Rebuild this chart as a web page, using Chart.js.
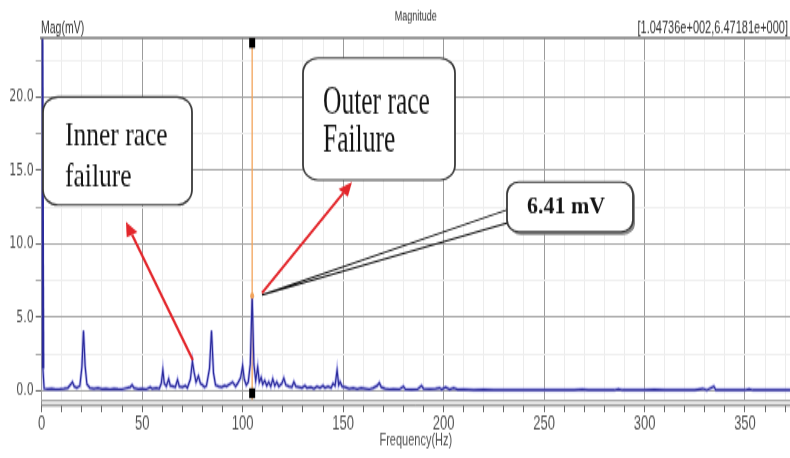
<!DOCTYPE html>
<html>
<head>
<meta charset="utf-8">
<title>Magnitude</title>
<script src="https://cdn.jsdelivr.net/npm/chart.js@4.4.1/dist/chart.umd.min.js"></script>
<style>
  body { margin: 0; background: #fff; }
</style>
</head>
<body>
<!-- the source picture is a screenshot stretched vertically, so the canvas is drawn at 290px and shown at 458px -->
<canvas id="spectrum" width="790" height="290" style="width:790px;height:458px"></canvas>
<script>
// spectrum (Hz / mV)
const freqHz = [
    0, 0.6, 1.2, 3, 5, 7, 9, 11, 13, 14.5,
    15.3, 16.2, 17.5, 19, 20, 20.8, 21.6, 22.5, 24, 26,
    28, 30, 32, 34, 36, 38, 40, 42, 44, 45,
    46, 48, 50, 52, 54, 55, 57, 58.5, 59.5, 60.3,
    61, 62, 63.2, 64, 65.5, 66.5, 67.6, 68.5, 70, 71.5,
    72.5, 74, 75, 75.8, 76.8, 78, 79, 80, 81, 82,
    83.5, 84.5, 85.5, 86.5, 88, 89.5, 91, 92, 93.5, 95,
    96.5, 97.5, 99, 100, 100.8, 101.8, 102.8, 103.8, 104.74, 105.6,
    106.5, 107.5, 108.3, 109.2, 110, 111, 112, 113, 114, 115,
    116, 117, 118, 119.5, 120.5, 121.5, 123, 124.5, 125.5, 126.5,
    128, 129.5, 131, 132, 134, 135.5, 137, 138.5, 140, 141,
    142.5, 144, 145, 146, 147, 147.8, 148.5, 149.5, 151, 153,
    155, 157, 159, 161, 163, 165, 167, 168, 169, 171,
    173, 175, 178, 180, 181, 184, 187, 189, 190, 193,
    196, 198, 199, 201, 203, 205, 207, 210, 215, 220,
    225, 230, 235, 240, 245, 250, 255, 260, 265, 269,
    272, 278, 285, 287, 289, 295, 300, 305, 310, 315,
    320, 325, 329, 331, 334.5, 335.5, 340, 345, 350, 352,
    354, 360, 365, 372.4
]
const magMv = [
    30, 1.5, 0.15, 0.12, 0.15, 0.1, 0.12, 0.15, 0.2, 0.45,
    0.6, 0.3, 0.2, 0.35, 1.6, 4.1, 1.7, 0.45, 0.2, 0.15,
    0.2, 0.12, 0.15, 0.1, 0.15, 0.12, 0.1, 0.18, 0.25, 0.4,
    0.2, 0.12, 0.15, 0.1, 0.25, 0.15, 0.2, 0.15, 0.5, 1.4,
    0.5, 0.3, 0.8, 0.35, 0.3, 0.25, 0.75, 0.3, 0.25, 0.35,
    0.2, 0.8, 2.0, 1.3, 0.6, 1.0, 0.5, 0.4, 0.25, 0.35,
    1.5, 4.1, 1.2, 0.4, 0.3, 0.25, 0.35, 0.3, 0.45, 0.6,
    0.3, 0.5, 0.9, 1.7, 0.8, 0.4, 0.6, 1.8, 6.47, 1.8,
    0.7, 1.6, 0.6, 0.9, 0.45, 0.7, 0.35, 0.6, 0.3, 0.8,
    0.35, 0.6, 0.3, 0.5, 0.85, 0.4, 0.3, 0.25, 0.6, 0.3,
    0.25, 0.2, 0.35, 0.2, 0.25, 0.15, 0.3, 0.2, 0.35, 0.2,
    0.3, 0.2, 0.5, 0.35, 1.4, 0.4, 0.6, 0.3, 0.25, 0.15,
    0.2, 0.12, 0.2, 0.15, 0.1, 0.2, 0.35, 0.55, 0.25, 0.15,
    0.1, 0.12, 0.1, 0.3, 0.1, 0.08, 0.1, 0.35, 0.15, 0.12,
    0.15, 0.2, 0.1, 0.25, 0.1, 0.2, 0.08, 0.1, 0.05, 0.08,
    0.05, 0.07, 0.05, 0.06, 0.05, 0.07, 0.05, 0.06, 0.05, 0.1,
    0.05, 0.06, 0.05, 0.12, 0.05, 0.06, 0.05, 0.08, 0.05, 0.06,
    0.05, 0.07, 0.15, 0.05, 0.3, 0.06, 0.05, 0.06, 0.05, 0.12,
    0.05, 0.06, 0.05, 0.06
]

// ticks: minor every 10 Hz / 2.5 mV, labels only on the majors
const xTickVals = [0, 10, 20, 30, 40, 50, 60, 70, 80, 90, 100, 110, 120, 130, 140, 150, 160, 170, 180, 190,
    200, 210, 220, 230, 240, 250, 260, 270, 280, 290, 300, 310, 320, 330, 340, 350, 360, 370]
const yTickVals = [0, 2.5, 5, 7.5, 10, 12.5, 15, 17.5, 20, 22.5]
const xMajor = 50
const yMajor = 5

// cursor read-out
const cursorFreq = 104.736
const cursorMag = 6.47181

const S = 458 / 290      // vertical stretch of the screenshot

const sci = v => {
    const [m, e] = v.toExponential(5).split('e')
    return m + 'e' + (e[0] === '-' ? '-' : '+') + String(Math.abs(+e)).padStart(3, '0')
}
const readout = '[' + sci(cursorFreq) + ',' + sci(cursorMag) + ']'

// callouts, in data units (Hz, mV)
const notes = {
    inner: { box: [0.65, 19.99, 74.8, 12.64], lines: [['Inner race', 11.6, 16.72], ['failure', 11.6, 13.88]], sy: 1.33 },
    outer: { box: [130.04, 22.64, 205.68, 14.34], lines: [['Outer race', 140, 18.88], ['Failure', 140, 16.27]], sy: 1.6 },
    value: { box: [231.56, 14.2, 294.26, 10.8], lines: [['6.41 mV', 241.5, 12.12]], sy: 1 },
    arrows: [[[75.2, 2.1], [41.95, 11.48]], [[109.63, 6.65], [154.43, 14.2]]],
    wedge: [[109.63, 6.52], [231.56, 12.3], [231.56, 11.41]]
}

const pt = (chart, f, m) => ({ x: chart.scales.x.getPixelForValue(f), y: chart.scales.y.getPixelForValue(m) * S })

const roundBox = (ctx, a, b, r, shadow) => {
    if (shadow) {
        ctx.fillStyle = '#8a8a8a'
        ctx.beginPath(); ctx.roundRect(a.x + 2, a.y + 3, b.x - a.x, b.y - a.y, r); ctx.fill()
    }
    ctx.fillStyle = '#fff'
    ctx.strokeStyle = '#3a3a3a'
    ctx.lineWidth = 1.8
    ctx.beginPath(); ctx.roundRect(a.x, a.y, b.x - a.x, b.y - a.y, r); ctx.fill(); ctx.stroke()
}

const stretchedText = (ctx, txt, p, font, sy) => {
    ctx.save()
    ctx.translate(p.x, p.y)
    ctx.scale(1, sy)
    ctx.font = font
    ctx.fillStyle = '#141414'
    ctx.textAlign = 'left'
    ctx.textBaseline = 'alphabetic'
    ctx.fillText(txt, 0, 0)
    ctx.restore()
}

const arrow = (ctx, a, b) => {
    const ang = Math.atan2(b.y - a.y, b.x - a.x)
    const len = 14, half = 6
    const bx = b.x - len * Math.cos(ang), by = b.y - len * Math.sin(ang)
    ctx.strokeStyle = ctx.fillStyle = '#e3262b'
    ctx.lineWidth = 2.4
    ctx.beginPath(); ctx.moveTo(a.x, a.y); ctx.lineTo(bx, by); ctx.stroke()
    ctx.beginPath()
    ctx.moveTo(b.x, b.y)
    ctx.lineTo(bx + half * Math.sin(ang), by - half * Math.cos(ang))
    ctx.lineTo(bx - half * Math.sin(ang), by + half * Math.cos(ang))
    ctx.closePath(); ctx.fill()
}

const drawNote = (ctx, chart, n, font, r, shadow) => {
    roundBox(ctx, pt(chart, n.box[0], n.box[1]), pt(chart, n.box[2], n.box[3]), r, shadow)
    n.lines.forEach(([txt, f, m]) => stretchedText(ctx, txt, pt(chart, f, m), font, n.sy))
}

const overlay = {
    id: 'overlay',
    beforeDatasetsDraw(chart) {
        const { ctx, chartArea } = chart
        const cx = chart.scales.x.getPixelForValue(cursorFreq)
        ctx.save()
        ctx.strokeStyle = '#f2a35a'
        ctx.lineWidth = 1.3
        ctx.beginPath(); ctx.moveTo(cx, chartArea.top); ctx.lineTo(cx, chartArea.bottom); ctx.stroke()
        ctx.restore()
    },
    afterDatasetsDraw(chart) {
        const { ctx, chartArea } = chart
        const cx = chart.scales.x.getPixelForValue(cursorFreq)
        ctx.save()
        // frame bits of the analyser window
        ctx.strokeStyle = '#7a7a7a'
        ctx.lineWidth = 1.6
        ctx.beginPath(); ctx.moveTo(40, chartArea.top); ctx.lineTo(chart.width, chartArea.top); ctx.stroke()
        ctx.fillStyle = '#e4e4e4'
        ctx.fillRect(chartArea.left, chartArea.bottom + 0.5, chartArea.right - chartArea.left, 3)
        ctx.strokeStyle = '#777'
        ctx.lineWidth = 1
        ctx.beginPath(); ctx.moveTo(chartArea.left, chartArea.bottom + 3.5); ctx.lineTo(chartArea.right, chartArea.bottom + 3.5); ctx.stroke()

        // cursor markers
        ctx.fillStyle = '#000'
        ctx.fillRect(cx - 3, chartArea.top, 6, 6.3)
        ctx.fillRect(cx - 3, chartArea.bottom - 7.5, 6, 6.3)
        ctx.fillStyle = '#f2a35a'
        ctx.beginPath(); ctx.arc(cx, chart.scales.y.getPixelForValue(cursorMag), 2, 0, Math.PI * 2); ctx.fill()

        // header texts
        ctx.fillStyle = '#333'
        ctx.textBaseline = 'middle'
        ctx.font = '9px "Liberation Sans"'
        ctx.textAlign = 'center'
        ctx.fillText('Magnitude', (chartArea.left + chartArea.right) / 2, 10.8)
        ctx.font = '10.5px "Liberation Sans"'
        ctx.textAlign = 'left'
        ctx.fillText('Mag(mV)', 41, 18.4)
        ctx.font = '11px "Liberation Sans"'
        ctx.textAlign = 'right'
        ctx.fillText(readout, 788, 18.4)
        ctx.restore()
    },
    afterDraw(chart) {
        const ctx = chart.ctx
        ctx.save()
        ctx.scale(1, 1 / S)     // callouts were pasted on the stretched picture

        const [apex, w1, w2] = notes.wedge.map(p => pt(chart, p[0], p[1]))
        ctx.strokeStyle = '#111'
        ctx.lineWidth = 1.3
        ctx.beginPath(); ctx.moveTo(w1.x, w1.y); ctx.lineTo(apex.x, apex.y); ctx.lineTo(w2.x, w2.y); ctx.stroke()

        const serif = '25.5px "Liberation Serif"'
        drawNote(ctx, chart, notes.inner, serif, 15, false)
        drawNote(ctx, chart, notes.outer, serif, 15, false)
        drawNote(ctx, chart, notes.value, 'bold 22px "Liberation Serif"', 12, true)

        notes.arrows.forEach(([a, b]) => arrow(ctx, pt(chart, a[0], a[1]), pt(chart, b[0], b[1])))
        ctx.restore()
    }
}

const points = freqHz.map((f, i) => ({ x: f, y: magMv[i] }))

new Chart('spectrum', {
    type: 'line',
    data: {
        datasets: [{
            label: 'Magnitude',
            data: points,
            borderColor: '#2b2b9c',
            borderWidth: 1.2,
            // the DC bin shows as a thick bar on the left edge
            segment: { borderWidth: c => c.p0DataIndex === 0 ? 3 : undefined },
            pointRadius: 0,
            tension: 0
        }, {
            label: 'halo',
            data: points,
            borderColor: 'rgba(130, 130, 225, 0.55)',
            borderWidth: 2.8,
            pointRadius: 0,
            tension: 0
        }]
    },
    options: {
        responsive: false,
        devicePixelRatio: 1,
        animation: false,
        layout: { padding: { top: 24.06, left: 0, right: 0, bottom: 0 } },
        plugins: { legend: { display: false }, tooltip: { enabled: false } },
        scales: {
            x: {
                type: 'linear',
                min: 0,
                max: 372.4,
                afterBuildTicks: s => { s.ticks = xTickVals.map(v => ({ value: v })) },
                afterFit: s => { s.height = 36.7 },
                ticks: {
                    autoSkip: false,
                    maxRotation: 0,
                    padding: 0,
                    color: '#505050',
                    font: { family: 'Liberation Sans', size: 13 },
                    callback: v => v % xMajor === 0 ? String(v) : ''
                },
                grid: {
                    color: c => c.tick && c.tick.value % xMajor === 0 ? '#9c9c9c' : '#ececec',
                    tickLength: 7.6,
                    tickColor: '#666'
                },
                border: { color: '#9c9c9c' },
                title: {
                    display: true,
                    text: 'Frequency(Hz)',
                    color: '#505050',
                    font: { family: 'Liberation Sans', size: 11 },
                    padding: { top: 0, bottom: 4 }
                }
            },
            y: {
                min: -0.63,
                max: 24,
                afterBuildTicks: s => { s.ticks = yTickVals.map(v => ({ value: v })) },
                afterFit: s => { s.width = 41.7 },
                ticks: {
                    padding: 2,
                    color: '#505050',
                    font: { family: 'DejaVu Sans', size: 11 },
                    callback: v => v % yMajor === 0 ? v.toFixed(1) : ''
                },
                grid: {
                    color: c => c.tick && c.tick.value % yMajor === 0 ? '#a4a4a4' : '#efefef',
                    tickLength: 6,
                    tickColor: c => c.tick && c.tick.value % yMajor === 0 ? '#666' : '#aaa'
                },
                border: { color: '#9c9c9c' }
            }
        }
    },
    plugins: [overlay]
})
</script>
</body>
</html>
